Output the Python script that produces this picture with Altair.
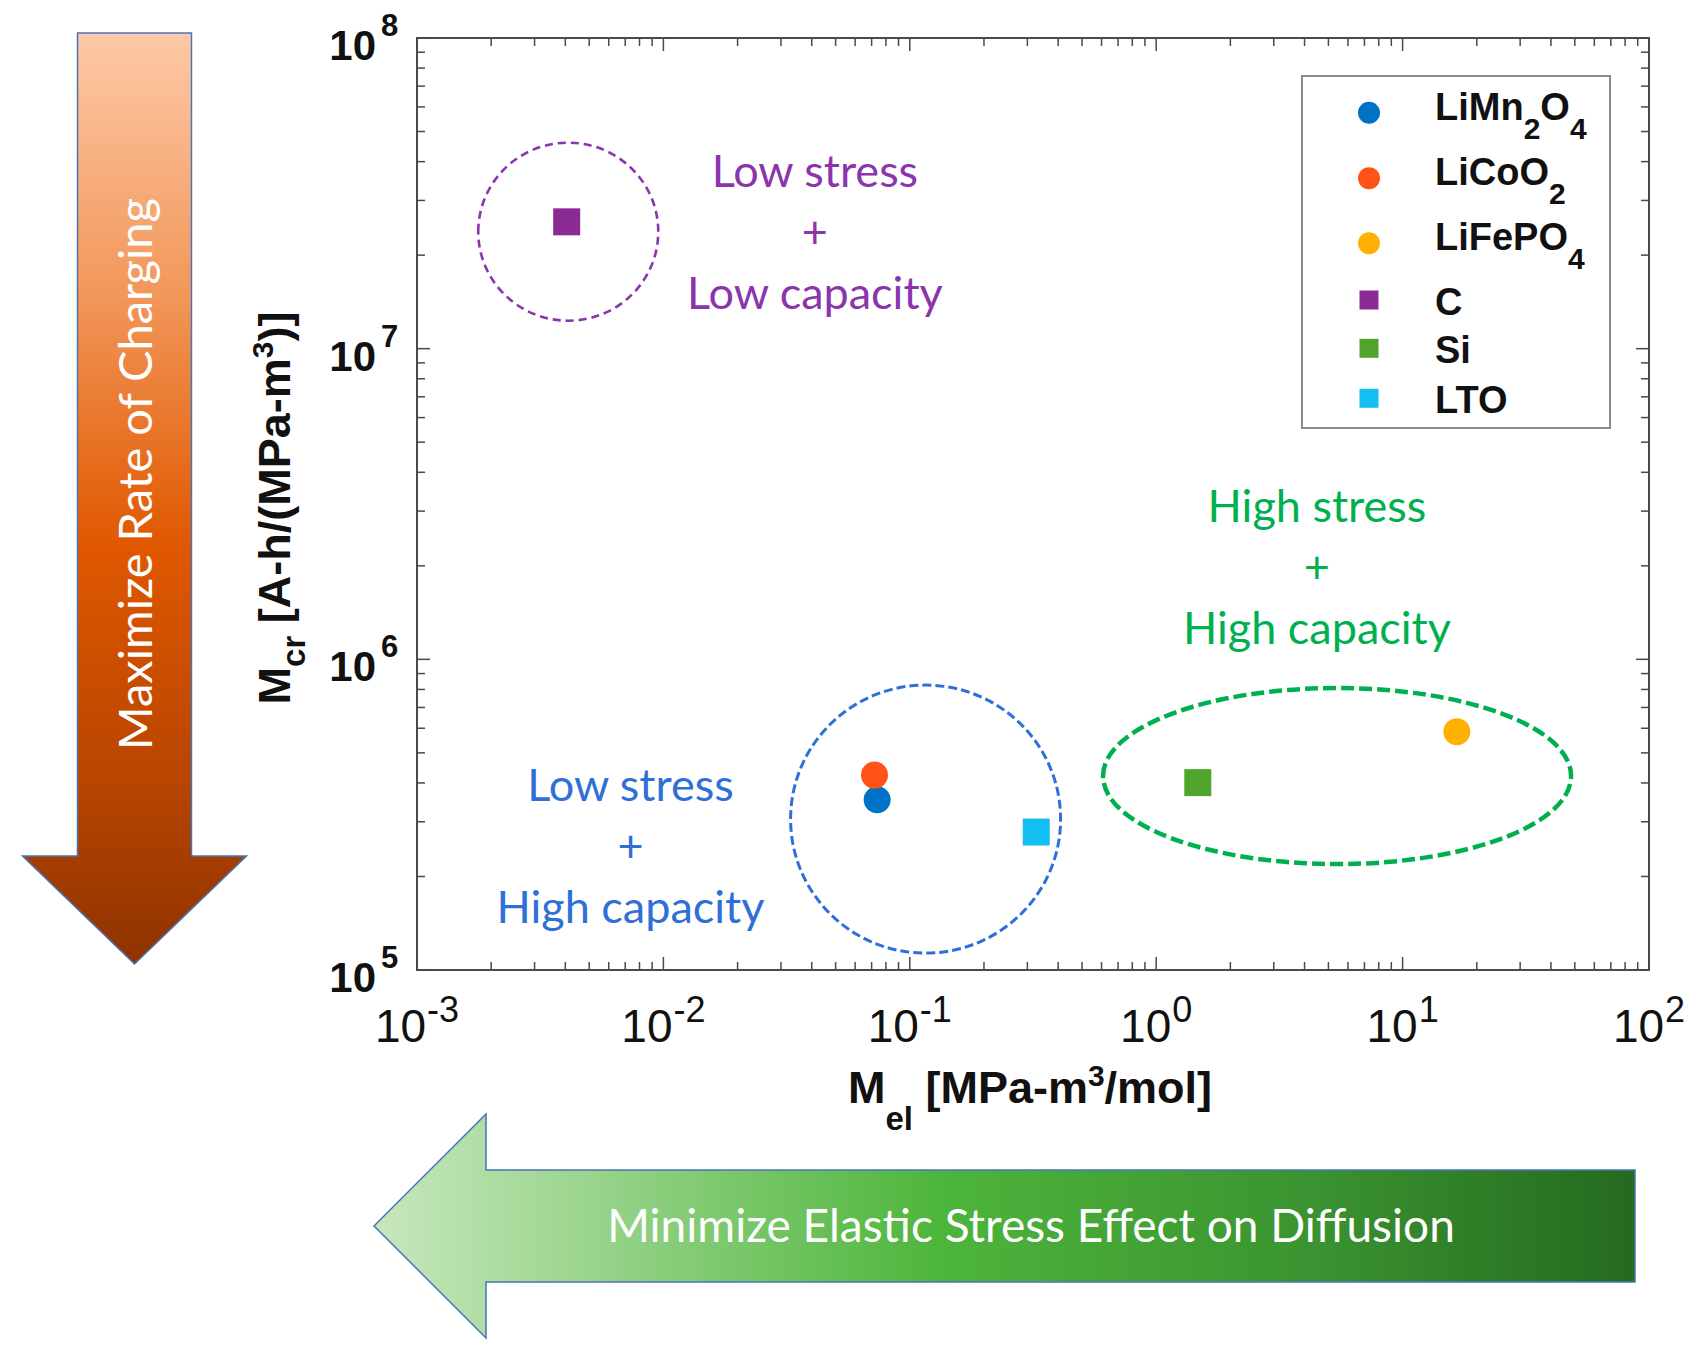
import altair as alt
import pandas as pd

W, H = 1232, 932

# ---------------- data ----------------
materials = ["LiMn2O4", "LiCoO2", "LiFePO4", "C", "Si", "LTO"]
m_el = [0.0737, 0.0719, 16.6, 0.00405, 1.475, 0.326]          # MPa-m^3/mol
m_cr = [3.53e5, 4.24e5, 5.85e5, 2.56e7, 4.01e5, 2.78e5]        # A-h/(MPa-m^3)
markers = ["circle", "circle", "circle", "square", "square", "square"]
colors = ["#0072C6", "#FF5214", "#FFB000", "#8A2A93", "#4FA52B", "#13BEF0"]
legend_parts = [
    [("LiMn", "n"), ("2", "sub"), ("O", "n"), ("4", "sub")],
    [("LiCoO", "n"), ("2", "sub")],
    [("LiFePO", "n"), ("4", "sub")],
    [("C", "n")],
    [("Si", "n")],
    [("LTO", "n")],
]

x_tick_exp = [-3, -2, -1, 0, 1, 2]
y_tick_exp = [5, 6, 7, 8]
minor_mult = [2, 3, 4, 5, 6, 7, 8, 9]

region_cx = [0.00411, 0.1159, 5.42]
region_cy = [2.38e7, 3.06e5, 4.21e5]
region_lines = [["Low stress", "+", "Low capacity"],
                ["Low stress", "+", "High capacity"],
                ["High stress", "+", "High capacity"]]
region_text_x = [0.0412, 0.00735, 4.49]
region_text_y = [3.31e7, 3.50e5, 2.77e6]
region_colors = ["#8B35AD", "#2F70D6", "#00B050"]

x_title_parts = [("M", "n"), ("el", "sub"), (" [MPa-m", "n"), ("3", "sup"), ("/mol]", "n")]
y_title_parts = [("M", "n"), ("cr", "sub"), (" [A-h/(MPa-m", "n"), ("3", "sup"), (")]", "n")]
arrow_down_text = "Maximize Rate of Charging"
arrow_left_text = "Minimize Elastic Stress Effect on Diffusion"

# ---------------- styles ----------------
region_w = [180, 270, 468]
region_h = [178, 268, 176]
region_sw = [2.6, 3.0, 4.5]
region_dash = [[8, 5], [9, 4], [13, 5]]

ARIAL_BOLD = {' ': 278, '(': 333, ')': 333, '-': 333, '/': 278, '[': 333, ']': 333,
              'A': 722, 'C': 722, 'F': 611, 'L': 611, 'M': 833, 'O': 778, 'P': 667,
              'S': 667, 'T': 611, 'a': 556, 'c': 556, 'e': 556, 'h': 611, 'i': 278,
              'l': 278, 'm': 889, 'n': 611, 'o': 611, 'r': 389}
ARIAL_REG = {'-': 333}


def tw(s, fs, table=ARIAL_BOLD):
    return sum(table.get(c, 556) for c in s) * fs / 1000.0


def ellipse_path(r):
    k = 0.5523
    return (f"M -1 0 C -1 {-r*k:.4f} {-k} {-r:.4f} 0 {-r:.4f} "
            f"C {k} {-r:.4f} 1 {-r*k:.4f} 1 0 "
            f"C 1 {r*k:.4f} {k} {r:.4f} 0 {r:.4f} "
            f"C {-k} {r:.4f} -1 {r*k:.4f} -1 0 Z")


def compose(parts, sizes, start, step_sign=1):
    """Lay out text segments one after another; leading spaces become offsets."""
    rows, pos = [], start
    for txt, kind in parts:
        fs = sizes[kind]
        stripped = txt.lstrip(" ")
        pos += step_sign * tw(" " * (len(txt) - len(stripped)), fs)
        rows.append((pos, stripped, kind, fs))
        pos += step_sign * tw(stripped, fs)
    return rows


xs = alt.Scale(type="log", domain=[1e-3, 1e2], nice=False)
ys = alt.Scale(type="log", domain=[1e5, 1e8], nice=False)
pxs = alt.Scale(domain=[0, W], nice=False, zero=False)
pys = alt.Scale(domain=[0, H], nice=False, zero=False, reverse=True)

TICK = "#4a4a4a"
SANS = "Liberation Sans, Arial, Helvetica"

# ---------------- data layers ----------------
data_layers = []

# region ellipses
for i in range(3):
    df = pd.DataFrame({"x": [region_cx[i]], "y": [region_cy[i]]})
    data_layers.append(
        alt.Chart(df).mark_point(
            shape=ellipse_path(region_h[i] / region_w[i]), size=region_w[i] ** 2,
            filled=False, color=region_colors[i], strokeWidth=region_sw[i],
            strokeDash=region_dash[i], opacity=1)
        .encode(x=alt.X("x:Q", scale=xs, axis=None), y=alt.Y("y:Q", scale=ys, axis=None))
    )

# points
pts = pd.DataFrame({"material": materials, "m_el": m_el, "m_cr": m_cr,
                    "shape": markers, "color": colors})
data_layers.append(
    alt.Chart(pts).mark_point(filled=True, opacity=1, size=729, strokeWidth=0).encode(
        x=alt.X("m_el:Q", scale=xs, axis=None),
        y=alt.Y("m_cr:Q", scale=ys, axis=None),
        shape=alt.Shape("shape:N", scale=None),
        color=alt.Color("color:N", scale=None),
    )
)

# region annotation texts
for i in range(3):
    df = pd.DataFrame({"x": [region_text_x[i]], "y": [region_text_y[i]]})
    data_layers.append(
        alt.Chart(df).mark_text(text=region_lines[i], font="Lato", fontSize=45,
                                lineHeight=61, align="center", baseline="alphabetic",
                                color=region_colors[i])
        .encode(x=alt.X("x:Q", scale=xs, axis=None), y=alt.Y("y:Q", scale=ys, axis=None))
    )

# ticks (inside, all four sides)
xmaj = pd.DataFrame({"v": [10.0 ** e for e in x_tick_exp]})
xmin = pd.DataFrame({"v": [m * 10.0 ** e for e in x_tick_exp[:-1] for m in minor_mult]})
ymaj = pd.DataFrame({"v": [10.0 ** e for e in y_tick_exp]})
ymin = pd.DataFrame({"v": [m * 10.0 ** e for e in y_tick_exp[:-1] for m in minor_mult]})
for df, ln in [(xmaj, 13), (xmin, 8)]:
    for y0, y1 in [(H, H - ln), (0, ln)]:
        data_layers.append(alt.Chart(df).mark_rule(color=TICK, strokeWidth=1.5).encode(
            x=alt.X("v:Q", scale=xs, axis=None), y=alt.value(y0), y2=alt.value(y1)))
for df, ln in [(ymaj, 13), (ymin, 8)]:
    for x0, x1 in [(0, ln), (W, W - ln)]:
        data_layers.append(alt.Chart(df).mark_rule(color=TICK, strokeWidth=1.5).encode(
            y=alt.Y("v:Q", scale=ys, axis=None), x=alt.value(x0), x2=alt.value(x1)))

# x tick labels: whole "10^e" label centred on its tick
XB, XE = 46, 36
bw = tw("10", XB, ARIAL_REG)
xt = pd.DataFrame({"v": [10.0 ** e for e in x_tick_exp], "base": ["10"] * len(x_tick_exp),
                   "ex": [str(e) for e in x_tick_exp]})
for flt, sample in [("datum.v < 1", "-3"), ("datum.v >= 1", "0")]:
    ew = tw(sample, XE, ARIAL_REG)
    total = bw + 1 + ew
    bdx = -total / 2 + bw / 2
    edx = -total / 2 + bw + 1
    data_layers.append(alt.Chart(xt).transform_filter(flt).mark_text(
        align="center", baseline="alphabetic", dx=bdx, font=SANS, fontSize=XB, color="#111")
        .encode(x=alt.X("v:Q", scale=xs, axis=None), y=alt.value(H + 72), text="base:N"))
    data_layers.append(alt.Chart(xt).transform_filter(flt).mark_text(
        align="left", baseline="alphabetic", dx=edx, font=SANS, fontSize=XE, color="#111")
        .encode(x=alt.X("v:Q", scale=xs, axis=None), y=alt.value(H + 52), text="ex:N"))

# y tick labels
yt = pd.DataFrame({"v": [10.0 ** e for e in y_tick_exp], "base": ["10"] * len(y_tick_exp),
                   "ex": [str(e) for e in y_tick_exp]})
data_layers.append(alt.Chart(yt).mark_text(
    align="right", baseline="alphabetic", dy=22, font=SANS, fontWeight="bold", fontSize=42,
    color="#111").encode(x=alt.value(-41), y=alt.Y("v:Q", scale=ys, axis=None), text="base:N"))
data_layers.append(alt.Chart(yt).mark_text(
    align="left", baseline="alphabetic", dy=-2, font=SANS, fontWeight="bold", fontSize=31,
    color="#111").encode(x=alt.value(-36), y=alt.Y("v:Q", scale=ys, axis=None), text="ex:N"))

data_layer = alt.layer(*data_layers)

# ---------------- pixel-space layers (legend, titles, arrows) ----------------
pix_layers = []

# arrows
down_path = "M -57 -465 L 57 -465 L 57 358 L 112 358 L 0 466 L -112 358 L -57 358 Z"
left_path = "M -630 0 L -518 -112 L -518 -56 L 631 -56 L 631 56 L -518 56 L -518 112 Z"
orange = alt.Gradient(gradient="linear", x1=0, x2=0, y1=0, y2=1, stops=[
    alt.GradientStop(offset=0, color="#FDC9A6"), alt.GradientStop(offset=0.28, color="#F2975A"),
    alt.GradientStop(offset=0.55, color="#E05800"), alt.GradientStop(offset=0.8, color="#B84500"),
    alt.GradientStop(offset=1, color="#8E3300")])
green = alt.Gradient(gradient="linear", x1=0, x2=1, y1=0, y2=0, stops=[
    alt.GradientStop(offset=0, color="#C8E7BE"), alt.GradientStop(offset=0.45, color="#4DB53B"),
    alt.GradientStop(offset=0.75, color="#3A9230"), alt.GradientStop(offset=1, color="#246A1F")])
one = pd.DataFrame({"k": [0]})
pix_layers.append(alt.Chart(one).mark_point(shape=down_path, size=4, filled=True, fill=orange,
                                            stroke="#4A74B8", strokeWidth=1.5, opacity=1)
                  .encode(x=alt.value(-282.5), y=alt.value(460)))
pix_layers.append(alt.Chart(one).mark_point(shape=left_path, size=4, filled=True, fill=green,
                                            stroke="#4A74B8", strokeWidth=1.5, opacity=1)
                  .encode(x=alt.value(587), y=alt.value(1188)))
pix_layers.append(alt.Chart(one).mark_text(text=arrow_down_text, angle=270, font="Lato",
                                           fontSize=47, color="white", align="center",
                                           baseline="alphabetic")
                  .encode(x=alt.value(-265), y=alt.value(436)))
pix_layers.append(alt.Chart(one).mark_text(text=arrow_left_text, font="Lato",
                                           fontSize=46, color="white", align="center",
                                           baseline="alphabetic")
                  .encode(x=alt.value(614), y=alt.value(1204)))

# legend box
pix_layers.append(alt.Chart(one).mark_rect(fill="white", stroke="#8c8c8c", strokeWidth=2)
                  .encode(x=alt.value(885), x2=alt.value(1193), y=alt.value(38), y2=alt.value(390)))

row_y = [74.7, 140.3, 205.3, 262, 310.3, 360.3]
leg_sym = pd.DataFrame({"px": [952] * 6, "py": row_y, "shape": markers, "color": colors,
                        "sz": [484 if m == "circle" else 361 for m in markers]})
pix_layers.append(alt.Chart(leg_sym).mark_point(filled=True, opacity=1, strokeWidth=0).encode(
    x=alt.X("px:Q", scale=pxs, axis=None), y=alt.Y("py:Q", scale=pys, axis=None),
    shape=alt.Shape("shape:N", scale=None), color=alt.Color("color:N", scale=None),
    size=alt.Size("sz:Q", scale=None)))

leg_rows = []
lsz = {"n": 38, "sub": 30}
for i, parts in enumerate(legend_parts):
    has_sub = any(k == "sub" for _, k in parts)
    base_y = row_y[i] + (7 if has_sub else 15)
    for pos, txt, kind, fs in compose(parts, lsz, 1018):
        leg_rows.append({"px": pos, "py": base_y + (19 if kind == "sub" else 0),
                         "txt": txt, "fs": fs})
leg_txt = pd.DataFrame(leg_rows)
pix_layers.append(alt.Chart(leg_txt).mark_text(align="left", baseline="alphabetic", font=SANS,
                                               fontWeight="bold", color="#111").encode(
    x=alt.X("px:Q", scale=pxs, axis=None), y=alt.Y("py:Q", scale=pys, axis=None),
    text="txt:N", size=alt.Size("fs:Q", scale=None)))

# axis titles
tsz = {"n": 45, "sub": 33, "sup": 30}
L = sum(tw(t, tsz[k]) for t, k in x_title_parts)
xrows = []
for pos, txt, kind, fs in compose(x_title_parts, tsz, 613 - L / 2):
    off = {"n": 0, "sub": 27, "sup": -17}[kind]
    xrows.append({"px": pos, "py": 1065 + off, "txt": txt, "fs": fs})
pix_layers.append(alt.Chart(pd.DataFrame(xrows)).mark_text(
    align="left", baseline="alphabetic", font=SANS, fontWeight="bold", color="#111").encode(
    x=alt.X("px:Q", scale=pxs, axis=None), y=alt.Y("py:Q", scale=pys, axis=None),
    text="txt:N", size=alt.Size("fs:Q", scale=None)))

L = sum(tw(t, tsz[k]) for t, k in y_title_parts)
yrows = []
for pos, txt, kind, fs in compose(y_title_parts, tsz, 470 + L / 2, step_sign=-1):
    off = {"n": 0, "sub": 15, "sup": -17}[kind]
    yrows.append({"px": -127 + off, "py": pos, "txt": txt, "fs": fs})
pix_layers.append(alt.Chart(pd.DataFrame(yrows)).mark_text(
    align="left", baseline="alphabetic", angle=270, font=SANS, fontWeight="bold",
    color="#111").encode(
    x=alt.X("px:Q", scale=pxs, axis=None), y=alt.Y("py:Q", scale=pys, axis=None),
    text="txt:N", size=alt.Size("fs:Q", scale=None)))

pix_layer = alt.layer(*pix_layers)

chart = (
    alt.layer(pix_layer, data_layer)
    .resolve_scale(x="independent", y="independent")
    .properties(width=W, height=H, autosize=alt.AutoSizeParams(type="none"),
                padding={"left": 409, "top": 30, "right": 40, "bottom": 372},
                background="white")
    .configure_view(stroke="#4a4a4a", strokeWidth=2)
)

chart.save("out.html", embed_options={"renderer": "svg", "actions": False})
